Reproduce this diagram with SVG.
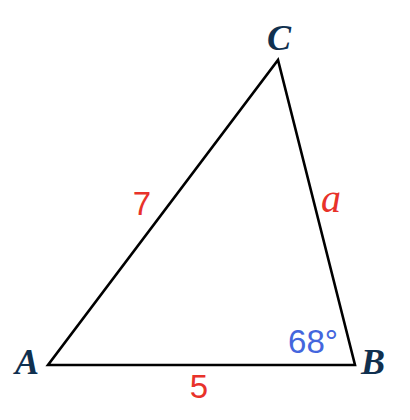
<svg xmlns="http://www.w3.org/2000/svg" width="410" height="420" viewBox="0 0 410 420">
<style>
.v{font-family:"Liberation Serif","DejaVu Serif",serif;font-style:italic;font-weight:bold;font-size:36px;fill:#10304f;text-anchor:middle}
.r{font-family:"Liberation Sans","Open Sans",sans-serif;font-size:33px;fill:#e8322a;text-anchor:middle}
.ri{font-family:"Liberation Serif","DejaVu Serif",serif;font-style:italic;font-size:40px;fill:#e8322a;text-anchor:middle}
.b{font-family:"Liberation Sans","Open Sans",sans-serif;font-size:33px;fill:#4466dd;text-anchor:middle}
</style>
<rect width="410" height="420" fill="#fff"/>
<g id="edges">
<polygon points="48,365 355,365 278,60" fill="none" stroke="#000" stroke-width="2.6" stroke-linejoin="miter"/>
</g>
<g id="A"><text class="v" x="27" y="374">A</text></g>
<g id="B"><text class="v" x="373" y="374">B</text></g>
<g id="C"><text class="v" x="279" y="50">C</text></g>
<g id="labels">
<text class="r" x="142" y="215">7</text>
<text class="ri" x="331" y="212">a</text>
<text class="r" x="199" y="398">5</text>
<text class="b" x="313" y="353">68°</text>
</g>
</svg>
